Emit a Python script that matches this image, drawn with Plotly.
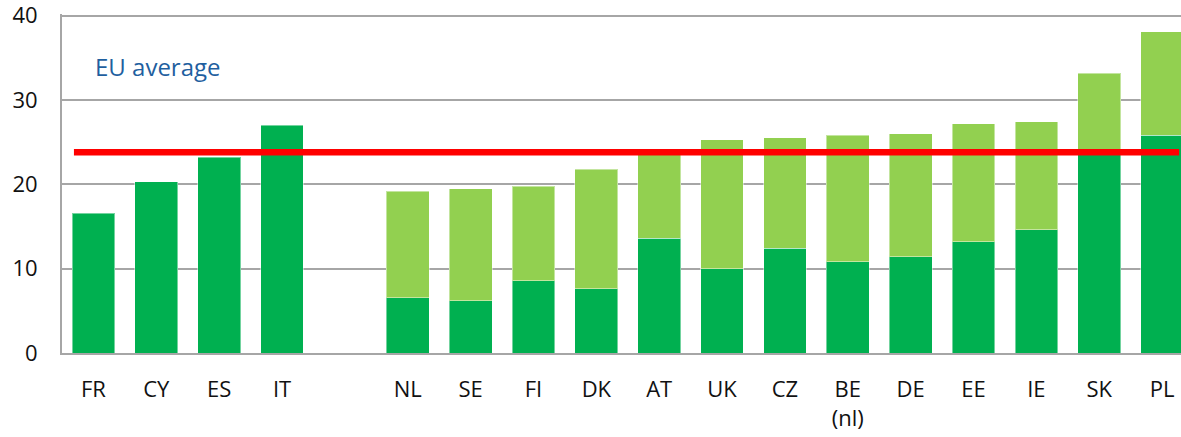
import plotly.graph_objects as go

# ---- data ----
group1 = ["FR", "CY", "ES", "IT"]
group2 = ["NL", "SE", "FI", "DK", "AT", "UK", "CZ", "BE<br>(nl)", "DE", "EE", "IE", "SK", "PL"]
dark_g1 = [16.6, 20.3, 23.2, 27.0]
dark_g2 = [6.55, 6.2, 8.55, 7.6, 13.6, 10.0, 12.4, 10.8, 11.4, 13.2, 14.6, 23.7, 25.85]
total_g2 = [19.2, 19.5, 19.8, 21.8, 23.7, 25.3, 25.5, 25.8, 26.0, 27.2, 27.4, 33.2, 38.1]
light_g2 = [t - d for t, d in zip(total_g2, dark_g2)]
eu_avg = 23.8
y_ticks = [0, 10, 20, 30, 40]

# positions: one empty slot between groups
pos1 = list(range(len(group1)))
pos2 = [len(group1) + 1 + i for i in range(len(group2))]

DARK = "#00B050"
LIGHT = "#92D050"
FONT = "Open Sans"

fig = go.Figure()
edge = dict(color="rgba(255,255,255,0.45)", width=1)
fig.add_trace(go.Bar(x=pos1 + pos2, y=dark_g1 + dark_g2, marker=dict(color=DARK, line=edge),
                     width=0.68, hoverinfo="skip"))
fig.add_trace(go.Bar(x=pos2, y=light_g2, marker=dict(color=LIGHT, line=edge),
                     width=0.68, hoverinfo="skip"))

fig.add_shape(type="line", xref="x", yref="y", x0=-0.31, x1=pos2[-1] + 0.27,
              y0=eu_avg, y1=eu_avg, line=dict(color="#FF0000", width=6.5), layer="above")

fig.add_annotation(x=0.0, y=34.0, xref="x", yref="y", text="EU average", showarrow=False,
                   xanchor="left", yanchor="middle",
                   font=dict(family=FONT, size=24, color="#1F5F9F"))

fig.update_layout(
    width=1181, height=437,
    margin=dict(l=62, r=0, t=14, b=84, autoexpand=False),
    barmode="stack", showlegend=False,
    paper_bgcolor="white", plot_bgcolor="white",
    font=dict(family=FONT, size=22, color="#111111"),
)
fig.update_xaxes(range=[-0.5, 17.3], tickvals=pos1 + pos2, ticktext=group1 + group2,
                 showgrid=False, showline=True, linecolor="#A6A6A6", linewidth=2,
                 ticks="", ticklabelstandoff=16, tickangle=0, automargin=False,
                 ticklabeloverflow="allow")
fig.update_yaxes(range=[0, 40.2], tickvals=y_ticks, showgrid=True, gridcolor="#A6A6A6", gridwidth=2,
                 showline=True, linecolor="#A6A6A6", linewidth=2, zeroline=False,
                 ticks="", ticklabelstandoff=18, automargin=False, ticklabeloverflow="allow")

# remove the default 8px page margin so the figure fills the window exactly
fig.write_html("out.html", config={"displayModeBar": False},
               post_script="document.body.style.margin='0px';")
